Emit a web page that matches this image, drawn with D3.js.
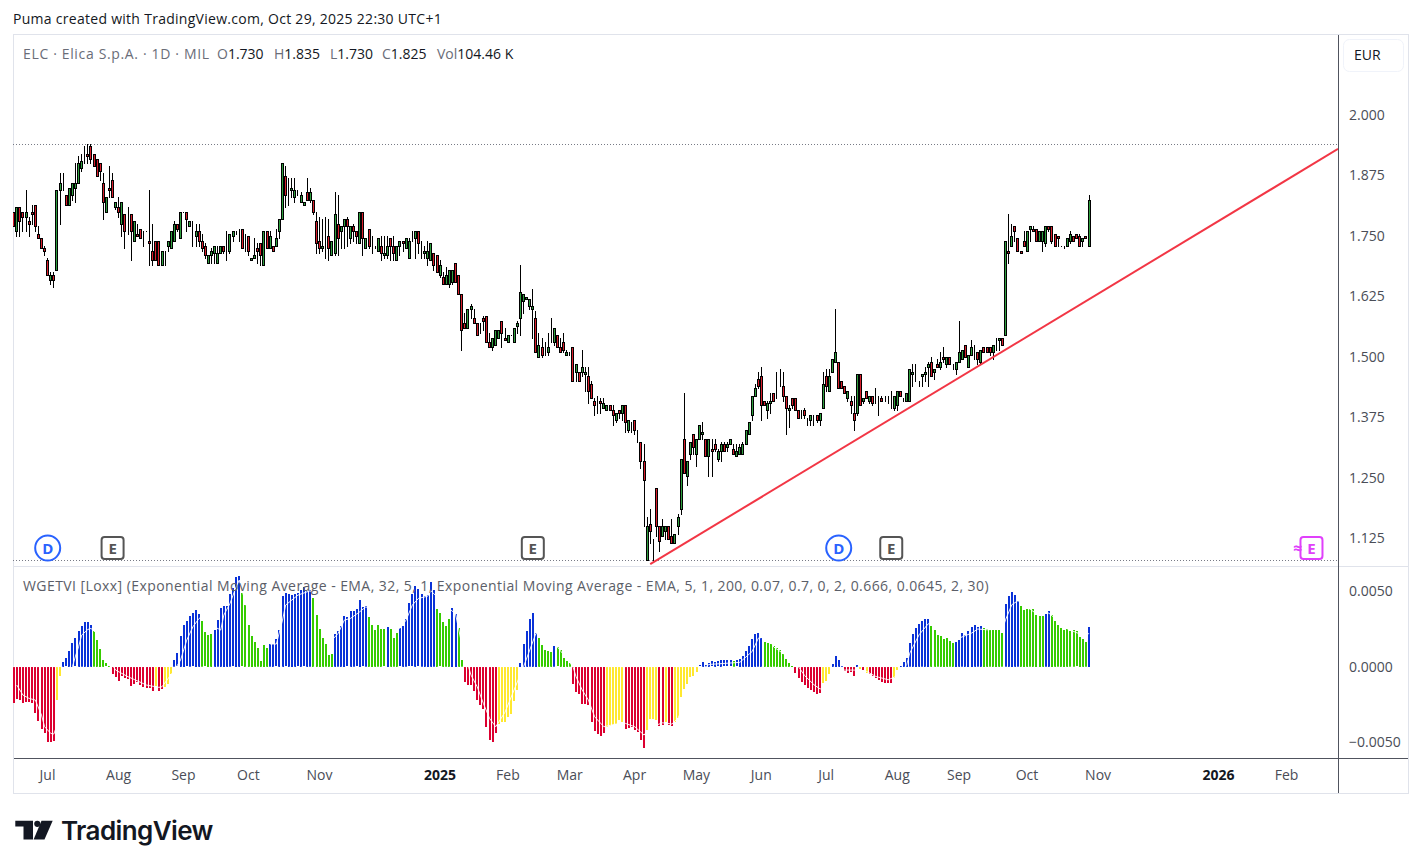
<!DOCTYPE html>
<html>
<head>
<meta charset="utf-8">
<title>ELC · Elica S.p.A.</title>
<script src="https://cdnjs.cloudflare.com/ajax/libs/d3/7.9.0/d3.min.js"></script>
<style>
  html, body { margin: 0; padding: 0; background: #fff; }
  svg { display: block; font-family: "Open Sans", "Noto Sans", sans-serif; }
</style>
</head>
<body>
<svg id="chart" width="1421" height="868"></svg>
<script>
// Daily prices for ELC, in thousandths of a euro. The first entry sits just past the left edge (bar -1).
const opens = [1800,
1760,1810,1800,1790,1780,1800,1815,1755,1745,1725,1700,1660,1670,1680,1845,1860,1835,1815,1835,1850,
1860,1890,1920,1920,1935,1920,1910,1900,1860,1800,1850,1865,1810,1810,1775,1795,1780,1795,1740,1755,
1765,1760,1760,1740,1720,1740,1740,1690,1700,1730,1725,1740,1775,1745,1800,1800,1770,1755,1750,1760,
1740,1730,1695,1710,1715,1695,1715,1730,1740,1720,1750,1760,1765,1765,1750,1750,1700,1705,1725,1735,
1690,1760,1725,1730,1730,1760,1785,1875,1850,1845,1830,1840,1820,1815,1840,1825,1825,1780,1740,1725,
1725,1750,1710,1715,1775,1760,1770,1785,1745,1770,1760,1735,1800,1725,1765,1730,1730,1720,1730,1710,
1710,1745,1730,1700,1730,1740,1725,1705,1750,1745,1760,1735,1715,1705,1700,1715,1710,1670,1665,1650,
1650,1655,1695,1670,1630,1570,1560,1600,1580,1570,1560,1580,1585,1530,1520,1525,1540,1575,1540,1530,
1545,1530,1565,1580,1615,1620,1605,1600,1580,1500,1520,1525,1510,1540,1530,1545,1520,1530,1505,1510,
1520,1470,1470,1470,1465,1460,1445,1410,1405,1410,1395,1390,1400,1390,1370,1390,1385,1400,1350,1355,
1370,1350,1325,1285,1080,1155,1100,1230,1150,1130,1140,1150,1130,1115,1150,1185,1330,1255,1300,1340,
1300,1330,1340,1330,1295,1310,1320,1290,1305,1320,1315,1320,1310,1295,1300,1300,1320,1340,1380,1420,
1455,1460,1410,1390,1405,1425,1440,1450,1440,1420,1390,1415,1415,1390,1385,1390,1365,1370,1365,1380,
1370,1395,1460,1430,1470,1490,1490,1450,1440,1415,1410,1385,1385,1465,1410,1430,1410,1420,1415,1420,
1415,1415,1420,1410,1395,1400,1430,1410,1410,1410,1465,1450,1445,1460,1465,1480,1490,1470,1485,1480,
1500,1485,1500,1485,1475,1490,1495,1525,1480,1505,1510,1510,1490,1520,1520,1520,1510,1535,1535,1540,
1545,1720,1730,1770,1745,1720,1740,1720,1765,1765,1765,1740,1740,1735,1770,1770,1755,1750,1730,1730,
1730,1740,1750,1755,1750,1740,1750,1730];
const highs = [1800,
1810,1810,1800,1845,1790,1815,1815,1770,1745,1730,1705,1675,1675,1845,1880,1880,1835,1850,1860,1900,
1915,1920,1935,1940,1940,1920,1910,1900,1880,1830,1895,1880,1820,1830,1820,1795,1810,1795,1780,1775,
1765,1760,1760,1845,1775,1740,1740,1720,1720,1740,1760,1780,1775,1800,1800,1800,1780,1780,1775,1775,
1755,1735,1710,1725,1730,1730,1730,1730,1760,1755,1760,1760,1765,1765,1755,1750,1705,1745,1735,1735,
1760,1760,1760,1730,1765,1785,1900,1895,1870,1870,1870,1845,1840,1820,1870,1850,1825,1800,1790,1785,
1790,1785,1740,1840,1835,1770,1785,1790,1770,1775,1760,1800,1800,1745,1765,1750,1730,1745,1750,1750,
1750,1745,1750,1730,1740,1740,1745,1745,1760,1760,1760,1740,1730,1740,1735,1715,1710,1700,1675,1685,
1680,1680,1695,1670,1630,1590,1600,1610,1600,1570,1570,1585,1585,1550,1540,1555,1555,1575,1560,1545,
1545,1560,1575,1690,1630,1625,1620,1640,1595,1550,1540,1530,1550,1580,1560,1545,1540,1550,1515,1510,
1520,1485,1470,1515,1480,1480,1450,1415,1420,1415,1415,1400,1400,1400,1385,1390,1400,1400,1370,1365,
1370,1350,1325,1320,1170,1185,1125,1230,1150,1165,1150,1150,1165,1135,1175,1290,1425,1285,1325,1340,
1330,1360,1365,1330,1330,1330,1330,1310,1325,1325,1325,1330,1320,1320,1320,1325,1350,1365,1420,1445,
1470,1480,1410,1410,1425,1425,1470,1475,1470,1420,1400,1415,1415,1390,1390,1395,1375,1380,1380,1380,
1385,1470,1475,1475,1495,1600,1490,1450,1440,1430,1420,1420,1465,1465,1415,1430,1420,1420,1435,1420,
1420,1420,1420,1430,1420,1430,1430,1415,1425,1475,1485,1485,1450,1465,1480,1490,1500,1475,1495,1510,
1520,1500,1500,1485,1490,1575,1515,1525,1505,1535,1525,1510,1515,1520,1520,1520,1525,1540,1540,1540,
1740,1795,1775,1770,1745,1720,1760,1760,1770,1770,1765,1760,1760,1770,1770,1770,1755,1750,1730,1730,
1745,1760,1750,1755,1755,1745,1750,1835];
const lows = [1770,
1750,1750,1760,1760,1750,1775,1760,1745,1725,1710,1670,1650,1645,1680,1775,1845,1815,1815,1825,1820,
1860,1885,1900,1900,1900,1895,1875,1865,1785,1800,1830,1830,1805,1790,1750,1725,1755,1700,1740,1750,
1745,1730,1760,1690,1690,1700,1690,1690,1690,1720,1725,1740,1760,1745,1800,1760,1770,1730,1730,1730,
1720,1705,1695,1695,1695,1695,1715,1715,1700,1715,1740,1755,1740,1725,1720,1710,1700,1705,1695,1690,
1690,1725,1725,1720,1730,1745,1785,1810,1815,1830,1820,1835,1820,1815,1825,1820,1795,1715,1715,1720,
1705,1700,1710,1710,1710,1725,1725,1730,1735,1740,1735,1735,1710,1725,1725,1715,1725,1720,1700,1705,
1705,1700,1700,1700,1710,1720,1725,1705,1740,1705,1715,1705,1705,1690,1700,1680,1675,1665,1650,1650,
1645,1650,1655,1630,1515,1560,1560,1580,1570,1545,1550,1555,1530,1520,1515,1525,1540,1520,1535,1530,
1545,1530,1550,1545,1590,1620,1600,1540,1510,1500,1500,1505,1505,1530,1525,1520,1510,1510,1505,1505,
1450,1450,1450,1460,1430,1405,1415,1380,1385,1385,1395,1390,1390,1360,1365,1375,1370,1345,1345,1345,
1340,1325,1270,1150,1080,1115,1080,1130,1100,1130,1125,1125,1115,1115,1135,1175,1260,1235,1290,1300,
1275,1330,1330,1295,1255,1255,1305,1285,1285,1305,1305,1320,1300,1295,1300,1300,1320,1340,1370,1420,
1435,1370,1400,1375,1385,1410,1415,1440,1410,1340,1355,1395,1390,1375,1375,1375,1360,1360,1360,1365,
1360,1395,1430,1430,1470,1490,1435,1435,1425,1410,1385,1350,1380,1400,1405,1415,1405,1400,1405,1380,
1410,1410,1405,1395,1390,1390,1420,1410,1410,1410,1440,1450,1440,1440,1450,1440,1460,1455,1480,1475,
1490,1480,1485,1475,1465,1490,1495,1500,1480,1505,1495,1485,1485,1510,1510,1505,1495,1515,1515,1525,
1545,1695,1730,1740,1720,1715,1730,1720,1740,1760,1740,1740,1720,1730,1760,1735,1730,1730,1730,1725,
1730,1735,1740,1745,1730,1730,1745,1730];
const closes = [1770,
1810,1780,1790,1800,1775,1795,1770,1745,1725,1720,1670,1670,1660,1845,1860,1860,1815,1850,1860,1860,
1900,1905,1920,1915,1910,1895,1875,1885,1820,1830,1845,1830,1820,1800,1820,1760,1780,1760,1780,1750,
1745,1760,1760,1735,1700,1700,1690,1720,1700,1740,1760,1775,1765,1800,1800,1785,1780,1755,1760,1740,
1725,1710,1710,1720,1730,1715,1730,1720,1740,1755,1760,1760,1765,1725,1750,1720,1705,1710,1720,1710,
1760,1725,1750,1720,1745,1785,1900,1835,1850,1850,1845,1840,1835,1820,1825,1840,1800,1735,1725,1730,
1725,1725,1740,1795,1745,1770,1785,1770,1770,1760,1750,1800,1745,1745,1730,1730,1730,1745,1715,1715,
1730,1730,1715,1730,1740,1735,1745,1740,1750,1760,1735,1735,1720,1720,1735,1690,1675,1690,1650,1670,
1680,1680,1655,1630,1555,1560,1600,1605,1570,1545,1560,1575,1530,1520,1540,1555,1555,1550,1535,1545,
1545,1560,1570,1635,1630,1625,1620,1605,1510,1525,1505,1525,1520,1540,1560,1520,1510,1515,1510,1510,
1450,1485,1450,1480,1470,1430,1415,1400,1405,1405,1405,1400,1390,1380,1385,1385,1400,1365,1370,1355,
1350,1350,1285,1245,1150,1140,1100,1150,1120,1150,1150,1125,1115,1135,1170,1290,1260,1285,1325,1315,
1330,1360,1345,1295,1330,1305,1310,1305,1320,1305,1320,1330,1300,1305,1315,1320,1350,1365,1420,1435,
1440,1400,1400,1405,1410,1410,1440,1450,1420,1395,1395,1400,1390,1375,1385,1380,1365,1380,1365,1370,
1385,1445,1440,1460,1495,1510,1435,1435,1425,1430,1400,1370,1465,1400,1415,1415,1420,1405,1415,1420,
1410,1415,1420,1410,1420,1430,1420,1410,1425,1475,1470,1450,1445,1465,1470,1485,1460,1475,1480,1490,
1495,1500,1485,1485,1490,1510,1515,1500,1505,1520,1510,1495,1515,1510,1510,1510,1525,1535,1540,1525,
1740,1715,1750,1760,1720,1715,1730,1760,1770,1760,1740,1760,1760,1770,1765,1740,1730,1745,1730,1730,
1745,1755,1740,1745,1730,1745,1745,1825];

// WGETVI histogram readings in units of 0.00001, starting at bar -1
const wgetviHist = [
-238,-209,-220,-238,-231,-233,-238,-304,-356,-411,-436,-495,-495,-488,-220,-62,
31,55,103,156,187,235,271,295,295,275,235,176,117,44,22,4,
-48,-66,-92,-57,-73,-81,-125,-110,-101,-119,-132,-136,-141,-158,-128,-158,-145,-132,-114,-48,
44,88,202,275,299,334,352,374,348,301,227,209,216,242,308,387,400,400,480,517,594,598,
484,407,275,202,165,123,37,143,123,150,150,180,242,466,484,480,473,480,484,506,524,502,506,
453,341,249,189,150,77,84,216,235,268,334,326,367,
370,378,440,392,400,328,275,242,275,249,246,264,249,189,222,253,268,315,418,477,532,510,480,466,475,559,506,
381,352,297,268,315,387,348,257,44,
-99,-121,-121,-158,-220,-251,-277,-396,-484,-497,-436,-374,-365,-365,-330,-312,-224,-154,
24,150,235,315,354,224,189,143,110,103,97,136,128,110,57,37,24,
-114,-167,-180,-242,-242,-253,-365,-425,-444,-455,-436,-396,-392,-385,-374,-352,-365,
-409,-400,-396,-418,-427,-484,-535,-418,-345,-345,-352,-387,-383,-363,-381,-389,-365,-337,-198,-143,-114,-66,-57,-33,
9,31,13,26,35,31,35,
46,42,42,42,40,42,51,73,106,139,185,218,224,191,165,158,152,139,125,112,86,53,26,7,
-40,-73,-99,-119,-139,-152,-165,-178,-172,-106,-92,-46,
20,73,46,7,-26,-40,-33,-59,11,-13,-20,-40,-46,-59,-73,-86,-99,-106,-106,-106,-73,-20,
7,33,59,158,218,257,284,304,317,317,271,244,211,205,185,191,172,158,
165,178,224,211,238,264,277,264,271,257,251,244,244,244,244,224,
416,469,495,475,436,403,376,381,383,381,343,337,337,350,367,
343,304,277,255,244,251,238,244,233,198,185,165,264];

// Histogram state per bar: R falling below zero, Y rising below zero, B rising above zero, G falling above zero
const wgetviState = (
"RRRRRRRRRRRRRRYY" + "BBBBBBBBBB" + "GGGGGG" + "RRRRRRRRRRRRRRYRRYYY" + "BBBBBBBBB" + "GGGG" + "BBBBBBBBB" +
"GGGGGGGGG" + "BBBBBBBBBBBBBB" + "GGGGGGG" + "BBBBBB" +
"BBBBB" + "GGGGGG" + "B" + "GGG" + "BBBBBBBBBBBB" + "GGGGG" + "BB" + "GG" + "RRRRRRRRRRR" + "YYYYYYY" +
"BBBBBB" + "GGGGG" + "B" + "GGGGG" + "RRRRRRRRRRR" + "YYYYYY" + "RRRRRRR" + "YYYY" + "RR" + "Y" + "RR" + "YYYYYYYY" + "BBBBBBB" +
"BBBB" + "G" + "BBBBBBBBB" + "GGGGGGGGGG" + "RRRRRRRRR" + "YYY" + "BBBB" + "RRRR" + "B" + "Y" + "R" + "Y" + "RRRRRRRR" + "YY" +
"BBBBBBBBBB" + "GGGGGGGG" + "BBBBBBBBB" + "GGGGGGG" + "BBBBB" + "GGGGGGGG" + "BB" + "GGGGGGGGGGGG" + "B"
).split("");

// Signal line over the histogram: bar numbers and readings in units of 0.00001
const signalBars = [0,2,4,6,8,9,11,12,14,17,18,19,20,21,23,24,27,29,31,32,36,38,42,46,47,51,53,55,57,59,60,62,64,66,67,69,71,72,75,78,82,84,86,87,89,91,95,98,100,102,104,106,108,111,113,118,124,126,128,130,133,134,138,142,144,147,149,151,153,155,158,162,164,166,168,170,175,180,181,183,185,187,190,194,197,200,203,205,209,212,214,218,221,224,234,238,240,243,245,250,253,255,258,260,262,265,268,271,275,278,282,285,288,289,292,295,298,305,309,311,314,319,320,322,324,330,334,340,346,347];
const signalValues = [-121,-187,-209,-220,-319,-396,-440,-444,-330,-66,0,70,132,209,246,253,200,100,10,-22,-66,-84,-121,-136,-132,-22,44,176,264,319,330,286,264,242,341,418,528,572,350,220,150,150,308,407,440,473,502,400,290,176,220,308,319,363,396,330,253,308,407,451,466,502,420,348,150,-55,-132,-242,-341,-396,-300,-100,0,110,220,200,130,0,-66,-154,-220,-330,-396,-378,-374,-396,-451,-400,-370,-378,-340,-150,-30,15,29,101,189,200,130,60,0,-59,-119,-147,-120,-30,-22,-22,-31,-64,-86,-60,13,90,211,284,250,189,222,249,244,250,310,409,436,350,354,250,200,222];

// Rising support line, as bar numbers and prices
const trendBars = [205, 427.6];
const trendPrices = [1.072, 1.93];

// Axis ticks
const priceTicks = [2, 1.875, 1.75, 1.625, 1.5, 1.375, 1.25, 1.125];
const wgetviTicks = [0.005, 0, -0.005];
const timeTickBars = [10, 33, 54, 75, 98, 137, 159, 179, 200, 220, 241, 262, 285, 305, 327, 350, 389, 411];
const timeTickLabels = ["Jul", "Aug", "Sep", "Oct", "Nov", "2025", "Feb", "Mar", "Apr", "May", "Jun", "Jul", "Aug", "Sep", "Oct", "Nov", "2026", "Feb"];
const yearLabels = ["2025", "2026"];

// Event markers above the lower pane, by bar number
const dividendBars = [10, 266];
const earningsBars = [31, 167, 283];
const nextEarningsBar = 419;

const legendSymbol = "ELC · Elica S.p.A. · 1D · MIL";
const legendValues = [["O", "1.730", 217], ["H", "1.835", 274], ["L", "1.730", 330], ["C", "1.825", 382], ["Vol", "104.46 K", 437]];
const indicatorTitle = "WGETVI [Loxx] (Exponential Moving Average - EMA, 32, 5, 1, Exponential Moving Average - EMA, 5, 1, 200, 0.07, 0.7, 0, 2, 0.666, 0.0645, 2, 30)";
const pageCaption = "Puma created with TradingView.com, Oct 29, 2025 22:30 UTC+1";

const COLORS = { up: "#2e9e3e", down: "#d81e2c", wick: "#000", R: "#dc0030", Y: "#ffe830", B: "#0a32d8", G: "#36cc00",
  text: "#4a4d57", faint: "#e0e3eb", axis: "#50535e", trend: "#f23645", dividend: "#2962ff", earnings: "#555", next: "#e040fb" };

const svg = d3.select("#chart");
const paneRight = 1338, paneLeft = 13;

const x = d3.scaleLinear().domain([-1, 347]).range([13.7, 1089]);
const y = d3.scaleLinear().domain([1.125, 2]).range([538.5, 115]);
const yHist = d3.scaleLinear().domain([-0.005, 0.005]).range([742.5, 591]);

const defs = svg.append("defs");
defs.append("clipPath").attr("id", "price-clip").append("rect")
  .attr("x", paneLeft).attr("y", 35).attr("width", paneRight - paneLeft).attr("height", 530);
defs.append("clipPath").attr("id", "hist-clip").append("rect")
  .attr("x", paneLeft).attr("y", 567).attr("width", paneRight - paneLeft).attr("height", 190);

// Page caption and chart frame
svg.append("text").attr("x", 13).attr("y", 24).attr("font-size", 14).attr("letter-spacing", 0.28).attr("fill", "#131722").text(pageCaption);
svg.append("rect").attr("x", 13.5).attr("y", 34.5).attr("width", 1395).attr("height", 759)
  .attr("fill", "none").attr("stroke", COLORS.faint);
svg.append("line").attr("x1", 14).attr("x2", 1408).attr("y1", 566.5).attr("y2", 566.5).attr("stroke", COLORS.faint);
svg.append("line").attr("x1", 14).attr("x2", 1408).attr("y1", 758.5).attr("y2", 758.5).attr("stroke", COLORS.axis);
svg.append("line").attr("x1", 1338.5).attr("x2", 1338.5).attr("y1", 35).attr("y2", 793).attr("stroke", COLORS.axis);

// Highest and lowest price levels
const priceLevels = [d3.max(highs) / 1000, d3.min(lows) / 1000];
svg.append("g").selectAll("line").data(priceLevels).join("line")
  .attr("x1", paneLeft).attr("x2", paneRight)
  .attr("y1", d => Math.round(y(d)) + 0.5).attr("y2", d => Math.round(y(d)) + 0.5)
  .attr("stroke", "#787b86").attr("stroke-dasharray", "1 2");

// Candles
const candleData = opens.map((o, k) => ({ i: k - 1, o: o / 1000, h: highs[k] / 1000, l: lows[k] / 1000, c: closes[k] / 1000 }));
const candles = svg.append("g").attr("clip-path", "url(#price-clip)").attr("shape-rendering", "crispEdges")
  .selectAll("g").data(candleData).join("g");
candles.append("line")
  .attr("x1", d => Math.floor(x(d.i)) + 0.5).attr("x2", d => Math.floor(x(d.i)) + 0.5)
  .attr("y1", d => Math.round(y(d.h))).attr("y2", d => Math.round(y(d.l)) + 1)
  .attr("stroke", COLORS.wick);
candles.append("rect")
  .attr("x", d => Math.floor(x(d.i)) - 0.5).attr("width", 2)
  .attr("y", d => Math.round(y(Math.max(d.o, d.c))) + 0.5)
  .attr("height", d => Math.round(y(Math.min(d.o, d.c))) - Math.round(y(Math.max(d.o, d.c))))
  .attr("fill", d => d.c >= d.o ? COLORS.up : COLORS.down)
  .attr("stroke", COLORS.wick);

// Support line
const trendLine = d3.line().x(d => x(d[0])).y(d => y(d[1]));
svg.append("path").attr("clip-path", "url(#price-clip)").attr("fill", "none")
  .attr("stroke", COLORS.trend).attr("stroke-width", 2)
  .attr("d", trendLine(trendBars.map((b, i) => [b, trendPrices[i]])));

// Histogram pane
const histData = wgetviHist.map((v, k) => ({ i: k - 1, v: v * 1e-5, s: wgetviState[k] }));
svg.append("g").attr("clip-path", "url(#hist-clip)").attr("shape-rendering", "crispEdges")
  .selectAll("rect").data(histData).join("rect")
  .attr("x", d => Math.round(x(d.i)) - 1).attr("width", 2)
  .attr("y", d => Math.round(Math.min(yHist(d.v), yHist(0))))
  .attr("height", d => Math.max(1, Math.round(Math.abs(yHist(d.v) - yHist(0)))))
  .attr("fill", d => COLORS[d.s]);

const signalLine = d3.line().x(d => x(d[0])).y(d => yHist(d[1]));
svg.append("path").attr("clip-path", "url(#hist-clip)").attr("fill", "none")
  .attr("stroke", "#fff").attr("stroke-opacity", 0.9).attr("stroke-width", 1)
  .attr("d", signalLine(signalBars.map((b, i) => [b, signalValues[i] * 1e-5])));

// Zero line of the lower pane, visible only faintly through the gaps
svg.append("line").attr("x1", paneLeft).attr("x2", 1089).attr("y1", yHist(0)).attr("y2", yHist(0))
  .attr("stroke", "#fff").attr("stroke-opacity", 0.35).attr("stroke-dasharray", "2 2");

// Legends
svg.append("text").attr("x", 23).attr("y", 59).attr("font-size", 14).attr("letter-spacing", 0.65)
  .attr("fill", "#6a6d78").text(legendSymbol);
const legendTexts = svg.append("g").selectAll("text").data(legendValues).join("text")
  .attr("x", d => d[2]).attr("y", 59).attr("font-size", 14).attr("fill", "#6a6d78");
legendTexts.append("tspan").text(d => d[0]);
legendTexts.append("tspan").attr("fill", "#131722").text(d => d[1]);
svg.append("text").attr("x", 23).attr("y", 591).attr("font-size", 14).attr("letter-spacing", 0.43)
  .attr("fill", "#5b5e68").text(indicatorTitle);

// Axes
const styleAxis = g => {
  g.select(".domain").remove();
  g.selectAll(".tick line").remove();
  g.selectAll("text").attr("fill", "#4a4d57").attr("font-size", 14).attr("font-family", "\"Open Sans\", \"Noto Sans\", sans-serif");
};
svg.append("g").attr("transform", "translate(1338,0)")
  .call(d3.axisRight(y).tickValues(priceTicks).tickSize(0).tickPadding(11).tickFormat(d3.format(".3f")))
  .call(styleAxis);
svg.append("g").attr("transform", "translate(1338,0)")
  .call(d3.axisRight(yHist).tickValues(wgetviTicks).tickSize(0).tickPadding(11).tickFormat(d => d3.format(".4f")(d)))
  .call(styleAxis);
svg.append("g").attr("transform", "translate(-0.7,766)")
  .call(d3.axisBottom(x).tickValues(timeTickBars).tickSize(0).tickPadding(4).tickFormat((d, i) => timeTickLabels[i]))
  .call(styleAxis)
  .call(g => g.selectAll("text")
    .attr("font-weight", (d, i) => yearLabels.includes(timeTickLabels[i]) ? 700 : 400)
    .attr("fill", (d, i) => yearLabels.includes(timeTickLabels[i]) ? "#131722" : "#4a4d57"));

// Currency button
svg.append("rect").attr("x", 1343.5).attr("y", 39.5).attr("width", 60).attr("height", 32).attr("rx", 6)
  .attr("fill", "#fff").attr("stroke", "#f0f3fa");
svg.append("text").attr("x", 1354).attr("y", 60).attr("font-size", 14).attr("fill", "#131722").text("EUR");

// Dividend and earnings markers
const markerY = 548;
const dividend = svg.append("g").selectAll("g").data(dividendBars).join("g")
  .attr("transform", d => `translate(${x(d)},${markerY})`);
dividend.append("circle").attr("r", 12.5).attr("fill", "#fff").attr("stroke", COLORS.dividend).attr("stroke-width", 2);
dividend.append("text").attr("text-anchor", "middle").attr("y", 5.5).attr("font-size", 15).attr("font-weight", 700)
  .attr("fill", COLORS.dividend).text("D");
const earnings = svg.append("g").selectAll("g").data(earningsBars).join("g")
  .attr("transform", d => `translate(${x(d)},${markerY})`);
earnings.append("rect").attr("x", -11).attr("y", -11).attr("width", 22).attr("height", 22).attr("rx", 3)
  .attr("fill", "#fff").attr("stroke", COLORS.earnings).attr("stroke-width", 2);
earnings.append("text").attr("text-anchor", "middle").attr("y", 5.5).attr("font-size", 15).attr("font-weight", 700)
  .attr("fill", COLORS.earnings).text("E");
const nextEarnings = svg.append("g").attr("transform", `translate(${x(nextEarningsBar)},${markerY})`);
nextEarnings.append("rect").attr("x", -11).attr("y", -11).attr("width", 22).attr("height", 22).attr("rx", 3)
  .attr("fill", "#fff").attr("stroke", COLORS.next).attr("stroke-width", 2);
nextEarnings.append("text").attr("text-anchor", "middle").attr("y", 5.5).attr("font-size", 15).attr("font-weight", 700)
  .attr("fill", COLORS.next).text("E");
nextEarnings.append("text").attr("x", -14).attr("y", 6).attr("text-anchor", "middle").attr("font-size", 16).attr("font-weight", 700)
  .attr("fill", COLORS.next).text("≈");

// Brand mark
const brand = svg.append("g").attr("fill", "#131722");
brand.append("path").attr("d", "M15.3 820.7H33V839.5H23.5V826.6H15.3Z");
brand.append("circle").attr("cx", 37.3).attr("cy", 823.8).attr("r", 3.1);
brand.append("path").attr("d", "M41.5 820.7H52.7L44.5 839.5H33.6Z");
svg.append("text").attr("x", 61).attr("y", 840).attr("font-size", 26).attr("font-weight", 600)
  .attr("font-family", "Inter, \"Open Sans\", sans-serif").attr("letter-spacing", "-0.6").attr("fill", "#131722").text("TradingView");
</script>
</body>
</html>
